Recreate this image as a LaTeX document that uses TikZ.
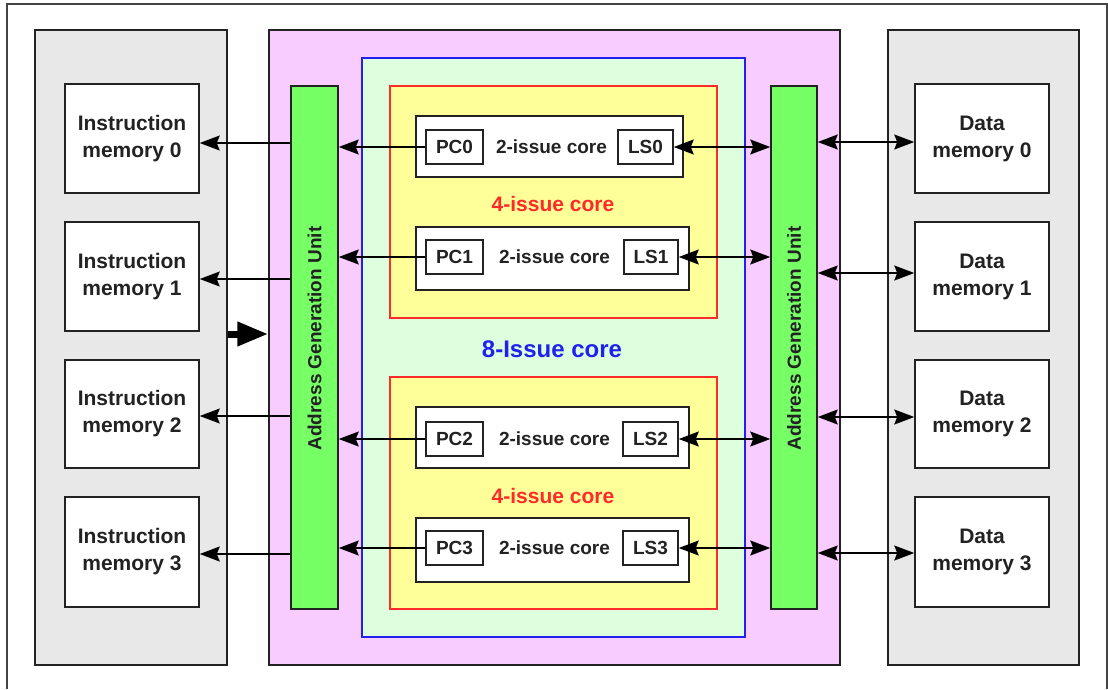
\documentclass[tikz,border=0pt]{standalone}
\usepackage{fontspec}
\setmainfont{Liberation Sans}
\usetikzlibrary{arrows.meta,fit}

\definecolor{panelgray}{HTML}{E8E8E8}
\definecolor{pinkbg}{HTML}{F9CCFF}
\definecolor{agugreen}{HTML}{77FF66}
\definecolor{mint}{HTML}{DDFFDD}
\definecolor{paleyellow}{HTML}{FFFF99}
\definecolor{corered}{HTML}{FF2A2A}
\definecolor{coreblue}{HTML}{2020F0}
\definecolor{ink}{HTML}{222222}
\definecolor{framegray}{HTML}{444444}

\tikzset{
  region/.style={draw=ink, line width=1.5pt, inner sep=0pt},
  panel/.style={region, fill=panelgray},
  whitebox/.style={region, fill=white},
  pinkbox/.style={region, fill=pinkbg},
  agubox/.style={region, fill=agugreen},
  eightbox/.style={draw=coreblue, line width=1.3pt, fill=mint, inner sep=0pt},
  fourbox/.style={draw=corered, line width=1.3pt, fill=paleyellow, inner sep=0pt},
  memtext/.style={align=center, text=ink, inner sep=0pt,
    font=\fontsize{21}{27}\selectfont\bfseries},
  agutext/.style={rotate=90, text=ink, inner sep=0pt,
    font=\fontsize{19}{23}\selectfont\bfseries},
  smalltext/.style={text=ink, inner sep=0pt,
    font=\fontsize{19}{23}\selectfont\bfseries},
  fourlabel/.style={text=corered, inner sep=0pt, font=\fontsize{21}{25}\selectfont\bfseries},
  eightlabel/.style={text=coreblue, inner sep=0pt, font=\fontsize{24}{28}\selectfont\bfseries},
  arr/.style={draw=black, line width=1.5pt, -{Stealth[length=20pt,width=15pt,inset=3pt]}},
  darr/.style={draw=black, line width=1.5pt,
    {Stealth[length=20pt,width=15pt,inset=3pt]}-{Stealth[length=20pt,width=15pt,inset=3pt]}},
  fatarr/.style={draw=black, line width=7pt, -{Triangle[length=31pt,width=23pt]}},
}

\begin{document}
\begin{tikzpicture}[x=1pt,y=-1pt]
  \useasboundingbox (0,0) rectangle (1108,689);

  % page frame, open at the bottom
  \draw[framegray, line width=1.5pt] (7,689) -- (7,4) -- (1107,4) -- (1107,689);

  % instruction memories
  \node[panel, fit={(35,30) (227,665)}] (ipanel) {};
  \foreach \i/\t/\b in {0/84/193,1/222/331,2/360/468,3/497/607}{
    \node[whitebox, fit={(65,\t) (199,\b)}] (imem\i) {};
    \node[memtext] (imem\i txt) at (imem\i.center) {Instruction\\memory \i};
  }

  % data memories
  \node[panel, fit={(888,30) (1079,665)}] (dpanel) {};
  \foreach \i/\t/\b in {0/84/193,1/222/331,2/360/468,3/497/607}{
    \node[whitebox, fit={(915,\t) (1049,\b)}] (dmem\i) {};
    \node[memtext] (dmem\i txt) at (dmem\i.center) {Data\\memory \i};
  }

  % processor with its two address generation units
  \node[pinkbox, fit={(269,30) (840,665)}] (pink) {};
  \node[agubox, fit={(291,86) (338,609)}] (agul) {};
  \node[agutext] (agultext) at ([yshift=9pt]agul.center) {Address Generation Unit};
  \node[agubox, fit={(771,86) (817,609)}] (agur) {};
  \node[agutext] (agurtext) at ([yshift=9pt]agur.center) {Address Generation Unit};

  % 8-issue core
  \node[eightbox, fit={(362,58) (745,637)}] (eight) {};
  \node[eightlabel] (eightlab) at (552,349) {8-Issue core};

  % two 4-issue cores
  \node[fourbox, fit={(390,86) (717,318)}] (quad0) {};
  \node[fourlabel] (quad0lab) at (553,204) {4-issue core};
  \node[fourbox, fit={(390,377) (717,609)}] (quad1) {};
  \node[fourlabel] (quad1lab) at (553,496) {4-issue core};

  % four 2-issue cores with their PC and LS units
  \node[whitebox, fit={(416,116) (683,177)}] (core0) {};
  \node[whitebox, fit={(416,227) (689,290)}] (core1) {};
  \node[whitebox, fit={(416,407) (689,468)}] (core2) {};
  \node[whitebox, fit={(416,518) (689,582)}] (core3) {};

  \node[whitebox, fit={(426,130) (483,164)}] (pc0) {};
  \node[whitebox, fit={(426,240) (483,274)}] (pc1) {};
  \node[whitebox, fit={(426,422) (483,456)}] (pc2) {};
  \node[whitebox, fit={(426,531) (483,565)}] (pc3) {};

  \node[whitebox, fit={(618,130) (673,164)}] (ls0) {};
  \node[whitebox, fit={(624,240) (678,274)}] (ls1) {};
  \node[whitebox, fit={(623,422) (678,456)}] (ls2) {};
  \node[whitebox, fit={(623,531) (678,565)}] (ls3) {};

  \foreach \i in {0,1,2,3}{
    \node[smalltext] (pc\i txt) at (pc\i.center) {PC\i};
    \node[smalltext] (ls\i txt) at (ls\i.center) {LS\i};
    \node[smalltext] (core\i txt) at ([xshift=2pt]core\i.center |- pc\i.center) {2-issue core};
  }

  % program counters feed the left AGU
  \foreach \i in {0,1,2,3}
    \draw[arr] (pc\i.west) -- (agul.east |- pc\i.west);

  % load/store units talk to the right AGU
  \foreach \i in {0,1,2,3}
    \draw[darr] (ls\i.east) -- (agur.west |- ls\i.east);

  % left AGU fetches from the instruction memories
  \foreach \i/\y in {0/143,1/279,2/416,3/554}
    \draw[arr] (agul.west |- 0,\y) -- (imem\i.east |- 0,\y);

  % right AGU reads and writes the data memories
  \foreach \i/\y in {0/142,1/273,2/417,3/553}
    \draw[darr] (agur.east |- 0,\y) -- (dmem\i.west |- 0,\y);

  % instruction stream into the processor
  \draw[fatarr] (ipanel.east |- 0,334) -- (pink.west |- 0,334);
\end{tikzpicture}
\end{document}
